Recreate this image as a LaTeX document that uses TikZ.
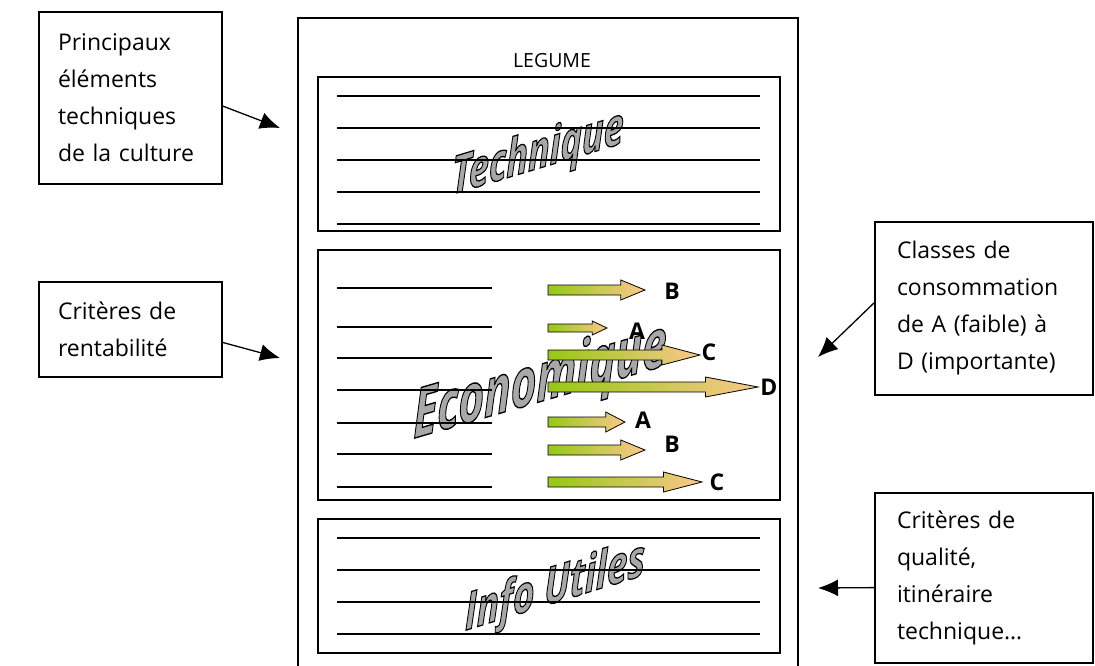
\documentclass[tikz,border=0pt]{standalone}
\usepackage{fontspec}
\setmainfont{Open Sans}
\usetikzlibrary{arrows.meta}
\definecolor{arrgreen}{RGB}{150,200,20}
\definecolor{arrtan}{RGB}{250,200,140}
\definecolor{wordgray}{RGB}{168,168,168}
\newcommand{\outlinetext}[1]{{\color{wordgray}\special{pdf:literal direct 2 Tr 0.9 w 0 0 0 RG}#1\special{pdf:literal direct 0 Tr}}}
\newcommand{\blockarrow}[5]{%
  \pgfmathsetmacro\arrhb{#2-0.25*(#2-#1)}%
  \shade[draw=black, line width=0.8pt, left color=arrgreen, right color=arrtan, line join=miter]
    (#1,#3-#4) -- (\arrhb,#3-#4) -- (\arrhb,#3-#5) -- (#2,#3) -- (\arrhb,#3+#5) -- (\arrhb,#3+#4) -- (#1,#3+#4) -- cycle;}
\tikzset{
  sidebox/.style={draw, line width=1.6pt, align=left, inner xsep=0pt, inner ysep=0pt,
    font=\fontsize{23}{37}\selectfont},
  conn/.style={line width=1.3pt, -{Latex[length=20pt,width=17pt]}},
  panel/.style={draw, line width=1.6pt},
  rule/.style={line width=1.3pt},
  lettre/.style={font=\fontsize{23}{23}\selectfont\bfseries, inner sep=0pt},
  bigword/.style={transform shape, inner sep=0pt},
}
\begin{document}
\begin{tikzpicture}[x=1pt,y=-1pt]
\useasboundingbox (0,0) rectangle (1095,666);
\fill[white] (0,0) rectangle (1095,666);

% outer sheet
\draw[line width=1.4pt] (298,666) -- (298,18) -- (798,18) -- (798,666);
\node[font=\fontsize{19.5}{19.5}\selectfont] (legume) at (552,61) {LEGUME};

% big words (under the rules)
\begin{scope}[shift={(538,155)}, yslant=0.3, yscale=1.45]
  \node[bigword] (wtech) at (0,0) {\fontsize{36}{36}\selectfont\bfseries\itshape\outlinetext{Technique}};
\end{scope}
\begin{scope}[shift={(540,384)}, yslant=0.29, yscale=1.55]
  \node[bigword] (weco) at (0,0) {\fontsize{44}{44}\selectfont\bfseries\itshape\outlinetext{Economique}};
\end{scope}
\begin{scope}[shift={(555,589)}, yslant=0.31, yscale=1.4]
  \node[bigword] (winfo) at (0,0) {\fontsize{37}{37}\selectfont\bfseries\itshape\outlinetext{Info Utiles}};
\end{scope}

% panel Technique
\draw[panel] (318,77) rectangle (780,231);
\foreach \y in {96,128,160,192,224} \draw[rule] (337,\y) -- (760,\y);

% panel Economique
\draw[panel] (318,250) rectangle (780,500);
\foreach \y in {288,327,358,390,423,454,487} \draw[rule] (337,\y) -- (492,\y);

% panel Info Utiles
\draw[panel] (318,519) rectangle (780,653);
\foreach \y in {538,570,602,634} \draw[rule] (337,\y) -- (760,\y);

% consumption arrows
\blockarrow{548}{645}{290}{5}{10}
\blockarrow{548}{607}{328}{4}{7}
\blockarrow{548}{700}{355}{5}{10}
\blockarrow{548}{758}{387}{5}{10}
\blockarrow{548}{625}{422}{5}{10}
\blockarrow{548}{645}{450}{5}{10}
\blockarrow{548}{702}{482}{5}{10}

\node[lettre] (lb1) at (672,291) {B};
\node[lettre] (la1) at (637,331) {A};
\node[lettre] (lc1) at (709,352) {C};
\node[lettre] (ld)  at (769,387) {D};
\node[lettre] (la2) at (643,420) {A};
\node[lettre] (lb2) at (672,444) {B};
\node[lettre] (lc2) at (717,482) {C};

% side boxes
\node[sidebox, minimum width=183pt, minimum height=172pt, text width=145pt] (b1) at (130.5,98)
  {Principaux\\éléments\\techniques\\de la culture};
\node[sidebox, minimum width=183pt, minimum height=95pt, text width=145pt] (b2) at (130.5,329.5)
  {Critères de\\rentabilité};
\node[sidebox, minimum width=218pt, minimum height=173pt, text width=174pt] (b3) at (984,308.5)
  {Classes de\\consommation\\de A (faible) à\\D (importante)};
\node[sidebox, minimum width=218pt, minimum height=170pt, text width=174pt] (b4) at (984,578)
  {Critères de\\qualité,\\itinéraire\\technique…};

\coordinate (t1) at (280,128);
\coordinate (t2) at (280,358);
\coordinate (t3) at (818,357);
\coordinate (t4) at (818,588);
\draw[conn] (b1.-5.6) -- (t1);
\draw[conn] (b2.-8.4) -- (t2);
\draw[conn] (b3.177.1) -- (t3);
\draw[conn] (b4.185.2) -- (t4);
\end{tikzpicture}
\end{document}
